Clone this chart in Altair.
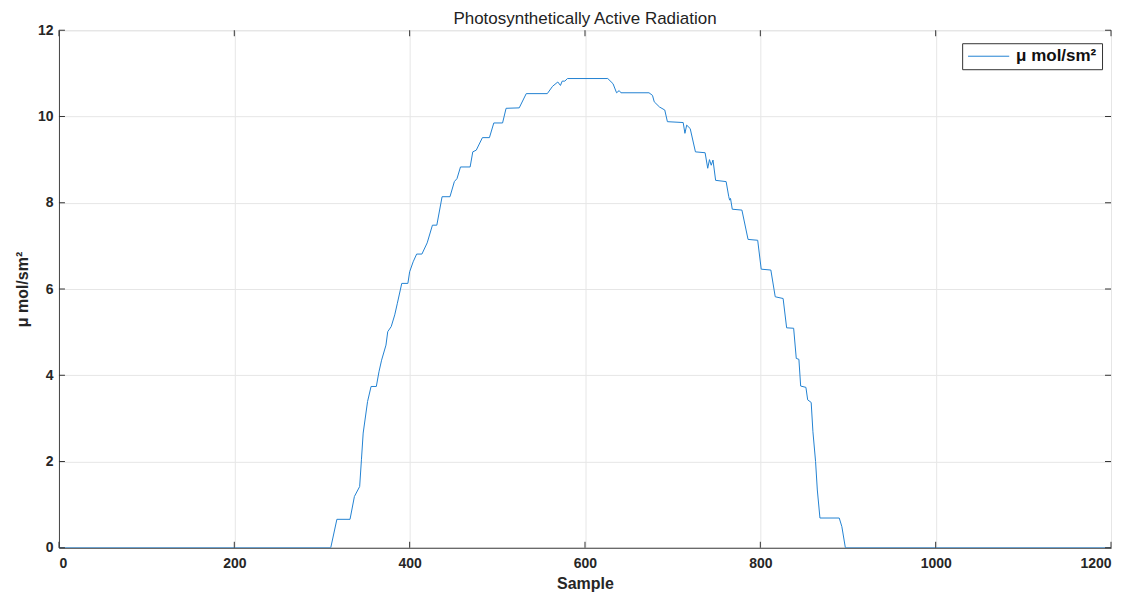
import altair as alt
import pandas as pd

# Trace (sample index, PAR value)
samples = [0, 310, 317, 332, 337, 343, 345, 347, 352, 356, 362, 365, 368, 373, 375, 379,
           383, 386, 391, 398, 400, 404, 408, 414, 420, 426, 431, 437, 446, 451, 454, 458,
           469, 472, 476, 483, 491, 496, 506, 510, 525, 533, 557, 563, 569, 572, 574, 577,
           580, 626, 632, 636, 639, 641, 673, 677, 679, 685, 691, 694, 712, 714, 716, 720,
           726, 737, 740, 742, 744, 746, 749, 761, 764, 765, 766, 768, 779, 786, 797, 801,
           812, 817, 826, 830, 838, 841, 844, 846, 852, 854, 858, 860, 863, 865, 868, 890,
           893, 897, 1200]
values = [0, 0, 0.66, 0.66, 1.19, 1.42, 2.04, 2.66, 3.39, 3.74, 3.74, 4.08, 4.35, 4.70, 5.01, 5.13,
          5.40, 5.67, 6.13, 6.13, 6.40, 6.63, 6.81, 6.81, 7.07, 7.48, 7.48, 8.14, 8.14, 8.49, 8.56, 8.83,
          8.83, 9.18, 9.22, 9.51, 9.51, 9.85, 9.85, 10.19, 10.20, 10.53, 10.53, 10.70, 10.80, 10.72, 10.82, 10.82,
          10.88, 10.88, 10.76, 10.55, 10.60, 10.55, 10.55, 10.49, 10.34, 10.22, 10.15, 9.88, 9.86, 9.61, 9.80, 9.72,
          9.18, 9.16, 8.80, 9.00, 8.87, 8.99, 8.52, 8.49, 8.14, 8.06, 8.10, 7.85, 7.83, 7.15, 7.13, 6.46,
          6.44, 5.82, 5.78, 5.10, 5.09, 4.39, 4.37, 3.75, 3.72, 3.43, 3.37, 2.69, 2.00, 1.34, 0.69, 0.69,
          0.49, 0, 0]
series_name = "\u03bc mol/sm\u00b2"

x_ticks = [0, 200, 400, 600, 800, 1000, 1200]
y_ticks = [0, 2, 4, 6, 8, 10, 12]

W, H = 1053, 518
FONT = "Liberation Sans"

df = pd.DataFrame({"Sample": samples, "PAR": values, "series": series_name})
dfx = pd.DataFrame({"t": x_ticks})
dfy = pd.DataFrame({"t": y_ticks})

xscale = alt.Scale(domain=[0, 1200], nice=False, zero=False)
yscale = alt.Scale(domain=[0, 12], nice=False)

axis_style = dict(tickSize=0, labelFont=FONT, labelFontSize=14,
                  labelFontWeight="bold", labelColor="#262626", titleFont=FONT, titleFontSize=16,
                  titleFontWeight="bold", titleColor="#262626", gridColor="#e6e6e6",
                  domainColor="#444")
x_axis = alt.Axis(values=x_ticks, title="Sample", labelPadding=9, titlePadding=5, format="d",
                  **axis_style)
y_axis = alt.Axis(values=y_ticks, title=series_name, labelPadding=6, titlePadding=7, **axis_style)

line = alt.Chart(df).mark_line(strokeWidth=1, clip=True).encode(
    x=alt.X("Sample:Q", scale=xscale, axis=x_axis),
    y=alt.Y("PAR:Q", scale=yscale, axis=y_axis),
    color=alt.Color("series:N", scale=alt.Scale(range=["#2282d2"]),
                    legend=alt.Legend(title=None, orient="none", legendX=904, legendY=13,
                                      symbolType="stroke", symbolSize=1700, symbolStrokeWidth=1,
                                      clipHeight=16, labelOffset=6,
                                      labelFont=FONT, labelFontSize=17, labelFontWeight="bold",
                                      labelColor="#111", strokeColor="#333", fillColor="white",
                                      padding=5, rowPadding=0)),
)

tick_col = "#333"
bot = alt.Chart(dfx).mark_rule(color=tick_col).encode(
    x=alt.X("t:Q", scale=xscale, axis=x_axis), y=alt.value(H), y2=alt.value(H - 6))
top = alt.Chart(dfx).mark_rule(color=tick_col).encode(
    x=alt.X("t:Q", scale=xscale, axis=x_axis), y=alt.value(0), y2=alt.value(6))
left = alt.Chart(dfy).mark_rule(color=tick_col).encode(
    y=alt.Y("t:Q", scale=yscale, axis=y_axis), x=alt.value(0), x2=alt.value(6))
right = alt.Chart(dfy).mark_rule(color=tick_col).encode(
    y=alt.Y("t:Q", scale=yscale, axis=y_axis), x=alt.value(W), x2=alt.value(W - 6))

chart = alt.layer(line, bot, top, left, right).properties(
    width=W, height=H,
    title=alt.TitleParams("Photosynthetically Active Radiation", font=FONT, fontSize=17,
                          fontWeight="normal", color="#222", offset=4, dy=9),
    autosize=alt.AutoSizeParams(type="none"),
    padding={"left": 51, "top": 22, "right": 20, "bottom": 48},
).configure_view(stroke="#444", strokeWidth=1).configure(background="white")

chart.save("out.html", embed_options={"renderer": "svg", "actions": False})
